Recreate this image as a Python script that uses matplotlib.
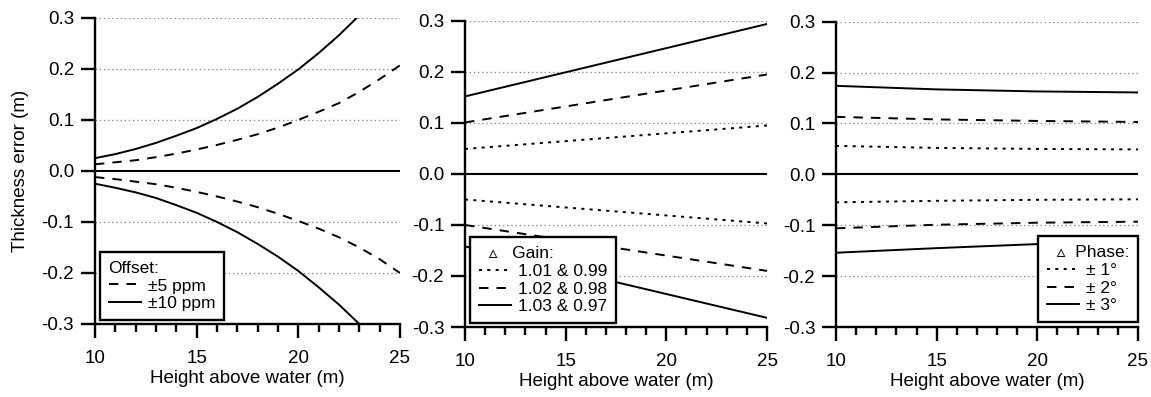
import matplotlib
matplotlib.use("Agg")
import matplotlib.pyplot as plt
from matplotlib.ticker import MultipleLocator, FormatStrFormatter

plt.rcParams['font.family'] = ['Liberation Sans', 'DejaVu Sans']
plt.rcParams['axes.unicode_minus'] = False
plt.rcParams['lines.scale_dashes'] = False

# height above water (m)
h = [10, 11, 12, 13, 14, 15, 16, 17, 18, 19, 20, 21, 22, 23, 24, 25]
# offset panel
off10_up = [0.025, 0.033, 0.043, 0.055, 0.069, 0.084, 0.102, 0.122, 0.145, 0.171, 0.199, 0.231, 0.266, 0.305, 0.345, 0.39]
off10_dn = [-0.025, -0.033, -0.042, -0.053, -0.067, -0.082, -0.100, -0.120, -0.143, -0.168, -0.196, -0.228, -0.262, -0.300, -0.340, -0.385]
off5_up = [0.013, 0.017, 0.021, 0.027, 0.034, 0.042, 0.051, 0.061, 0.072, 0.085, 0.100, 0.116, 0.133, 0.155, 0.180, 0.207]
off5_dn = [-0.012, -0.016, -0.021, -0.026, -0.033, -0.041, -0.050, -0.060, -0.071, -0.084, -0.098, -0.113, -0.130, -0.150, -0.173, -0.200]

# gain panel
h_gain = [10, 25]
gain1_up = [0.049, 0.095]
gain1_dn = [-0.050, -0.097]
gain2_up = [0.101, 0.195]
gain2_dn = [-0.100, -0.190]
gain3_up = [0.152, 0.294]
gain3_dn = [-0.142, -0.282]

# phase panel
h_phase = [10, 15, 20, 25]
ph1_up = [0.056, 0.052, 0.050, 0.049]
ph1_dn = [-0.055, -0.052, -0.050, -0.049]
ph2_up = [0.113, 0.108, 0.105, 0.103]
ph2_dn = [-0.106, -0.099, -0.095, -0.093]
ph3_up = [0.174, 0.167, 0.163, 0.161]
ph3_dn = [-0.154, -0.145, -0.137, -0.132]

DOT = (0, (2.2, 3.8))
DASH = (0, (6.8, 5.8))
LW = 1.4
FS = 13.5
LFS = 12.5

fig = plt.figure(figsize=(11.51, 3.97), dpi=100)
positions = [
    [0.0825, 0.1839, 0.265, 0.771],
    [0.404, 0.1763, 0.2624, 0.771],
    [0.7263, 0.1763, 0.2624, 0.769],
]
axes = [fig.add_axes(p) for p in positions]

for ax in axes:
    ax.set_xlim(10, 25)
    ax.set_ylim(-0.3, 0.3)
    for s in ['top', 'right']:
        ax.spines[s].set_visible(False)
    for s in ['left', 'bottom']:
        ax.spines[s].set_linewidth(1.7)
    ax.xaxis.set_major_locator(MultipleLocator(5))
    ax.xaxis.set_minor_locator(MultipleLocator(1))
    ax.yaxis.set_major_locator(MultipleLocator(0.1))
    ax.yaxis.set_major_formatter(FormatStrFormatter('%.1f'))
    ax.tick_params(axis='both', which='major', direction='out', length=10, width=1.7,
                   labelsize=FS)
    ax.tick_params(axis='x', which='major', pad=9)
    ax.tick_params(axis='y', which='major', pad=5)
    ax.tick_params(axis='x', which='minor', direction='out', length=5.5, width=1.7)
    for yv in [-0.2, -0.1, 0.1, 0.2, 0.3]:
        ax.axhline(yv, color='#888888', lw=0.9, ls=(0, (1, 2)), zorder=1)
    ax.axhline(0, color='black', lw=1.5, zorder=2)
    ax.set_xlabel('Height above water (m)', fontsize=FS, labelpad=2)


def make_legend(ax, handles, title, loc, anchor):
    leg = ax.legend(handles=handles, title=title, loc=loc, bbox_to_anchor=anchor,
                    borderaxespad=0, fontsize=LFS, title_fontsize=LFS,
                    alignment='left', fancybox=False, framealpha=1,
                    edgecolor='black', handlelength=1.85, handletextpad=0.4,
                    borderpad=0.5, labelspacing=0.15)
    leg.get_frame().set_linewidth(1.7)
    leg.set_zorder(5)
    return leg


# offset
ax = axes[0]
l5, = ax.plot(h, off5_up, color='black', lw=LW, ls=DASH, label='±5 ppm')
ax.plot(h, off5_dn, color='black', lw=LW, ls=DASH)
l10, = ax.plot(h, off10_up, color='black', lw=LW, label='±10 ppm')
ax.plot(h, off10_dn, color='black', lw=LW)
ax.set_ylabel('Thickness error (m)', fontsize=FS)
ax.yaxis.set_label_coords(-0.216, 0.5)
make_legend(ax, [l5, l10], 'Offset:', 'lower left', (0.016, 0.013))

# gain
ax = axes[1]
g1, = ax.plot(h_gain, gain1_up, color='black', lw=LW, ls=DOT, label='1.01 & 0.99')
ax.plot(h_gain, gain1_dn, color='black', lw=LW, ls=DOT)
g2, = ax.plot(h_gain, gain2_up, color='black', lw=LW, ls=DASH, label='1.02 & 0.98')
ax.plot(h_gain, gain2_dn, color='black', lw=LW, ls=DASH)
g3, = ax.plot(h_gain, gain3_up, color='black', lw=LW, label='1.03 & 0.97')
ax.plot(h_gain, gain3_dn, color='black', lw=LW)
make_legend(ax, [g1, g2, g3], '  \u25b5   Gain:', 'lower left', (0.017, 0.013))

# phase
ax = axes[2]
p1, = ax.plot(h_phase, ph1_up, color='black', lw=LW, ls=DOT, label='± 1°')
ax.plot(h_phase, ph1_dn, color='black', lw=LW, ls=DOT)
p2, = ax.plot(h_phase, ph2_up, color='black', lw=LW, ls=DASH, label='± 2°')
ax.plot(h_phase, ph2_dn, color='black', lw=LW, ls=DASH)
p3, = ax.plot(h_phase, ph3_up, color='black', lw=LW, label='± 3°')
ax.plot(h_phase, ph3_dn, color='black', lw=LW)
make_legend(ax, [p1, p2, p3], '  \u25b5  Phase:', 'lower right', (1.0, 0.016))

fig.savefig('out.png', dpi=100)
